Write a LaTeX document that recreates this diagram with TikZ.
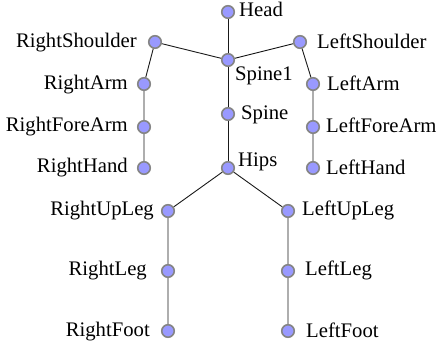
\documentclass[tikz,border=0pt]{standalone}
\usepackage{fontspec}
\setmainfont{Liberation Serif}
\begin{document}
\begin{tikzpicture}[x=1pt,y=-1pt,
  joint/.style={circle,draw=black!48,fill=blue!40,line width=1.6pt,minimum size=12.5pt,inner sep=0pt},
  bone/.style={draw=black!90,line width=0.9pt},
  lblr/.style={anchor=base east,inner sep=0pt,font=\fontsize{20.7}{24}\selectfont},
  lbll/.style={anchor=base west,inner sep=0pt,font=\fontsize{20.7}{24}\selectfont}]
\useasboundingbox (0,0) rectangle (440,347);
% joints
\node[joint] (Head) at (228,12) {};
\node[joint] (Spine1) at (228,60) {};
\node[joint] (Spine) at (228,114) {};
\node[joint] (Hips) at (228,168) {};
\node[joint] (RightShoulder) at (155,42) {};
\node[joint] (LeftShoulder) at (300,42) {};
\node[joint] (RightArm) at (144,84) {};
\node[joint] (LeftArm) at (313,84) {};
\node[joint] (RightForeArm) at (144,127) {};
\node[joint] (LeftForeArm) at (313,127) {};
\node[joint] (RightHand) at (144,168) {};
\node[joint] (LeftHand) at (313,168) {};
\node[joint] (RightUpLeg) at (168,211) {};
\node[joint] (LeftUpLeg) at (288,211) {};
\node[joint] (RightLeg) at (168,271) {};
\node[joint] (LeftLeg) at (288,271) {};
\node[joint] (RightFoot) at (168,331) {};
\node[joint] (LeftFoot) at (288,331) {};
% bones
\path[bone] (Head) -- (Spine1) -- (Spine) -- (Hips);
\path[bone] (Spine1) -- (RightShoulder) -- (RightArm) -- (RightForeArm) -- (RightHand);
\path[bone] (Spine1) -- (LeftShoulder) -- (LeftArm) -- (LeftForeArm) -- (LeftHand);
\path[bone] (Hips) -- (RightUpLeg) -- (RightLeg) -- (RightFoot);
\path[bone] (Hips) -- (LeftUpLeg) -- (LeftLeg) -- (LeftFoot);
% names
\node[lbll] (tHead) at (239,17) {Head};
\node[lbll] (tSpine1) at (235,81) {Spine1};
\node[lbll] (tSpine) at (241,120) {Spine};
\node[lbll] (tHips) at (238,167) {Hips};
\node[lblr] (tRightShoulder) at (137,48) {RightShoulder};
\node[lblr] (tRightArm) at (128,90) {RightArm};
\node[lblr] (tRightForeArm) at (128,132) {RightForeArm};
\node[lblr] (tRightHand) at (128,173) {RightHand};
\node[lblr] (tRightUpLeg) at (154,216) {RightUpLeg};
\node[lblr] (tRightLeg) at (147,276) {RightLeg};
\node[lblr] (tRightFoot) at (150,337) {RightFoot};
\node[lbll] (tLeftShoulder) at (317,49) {LeftShoulder};
\node[lbll] (tLeftArm) at (327,91) {LeftArm};
\node[lbll] (tLeftForeArm) at (326,133) {LeftForeArm};
\node[lbll] (tLeftHand) at (326,175) {LeftHand};
\node[lbll] (tLeftUpLeg) at (302,216) {LeftUpLeg};
\node[lbll] (tLeftLeg) at (305,276) {LeftLeg};
\node[lbll] (tLeftFoot) at (306,338) {LeftFoot};
\end{tikzpicture}
\end{document}
